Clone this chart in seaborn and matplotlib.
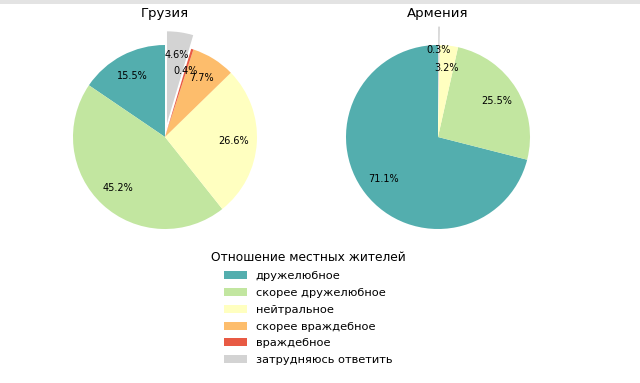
import matplotlib
matplotlib.use("Agg")
import matplotlib.pyplot as plt
import seaborn as sns
from matplotlib.patches import Rectangle

categories = ["дружелюбное", "скорее дружелюбное", "нейтральное",
              "скорее враждебное", "враждебное", "затрудняюсь ответить"]
georgia = [15.5, 45.2, 26.6, 7.7, 0.4, 4.6]
armenia = [71.1, 25.5, 3.2, 0.0, 0.0, 0.3]
countries = ["Грузия", "Армения"]

colors = ["#53aeae", "#c2e6a0", "#ffffc0", "#fdbd6c", "#e85a44", "#d3d3d3"]

sns.set_style("white")
plt.rcParams['font.family'] = ['DejaVu Sans']
plt.rcParams['text.color'] = 'black'

fig = plt.figure(figsize=(6.4, 3.83), dpi=100)
W, H = 640, 383
fig.add_artist(Rectangle((0, 1 - 4 / H), 1, 4 / H, transform=fig.transFigure,
                         color="#e3e3e3", lw=0))

R = 92
centers = [(165, 137), (438, 137)]
explodes = [0.15, 0.2]

legend_wedges = None
for name, vals, (cx, cy), ex in zip(countries, [georgia, armenia], centers, explodes):
    half = 1.25 * R
    ax = fig.add_axes([(cx - half) / W, (H - cy - half) / H, 2 * half / W, 2 * half / H])
    keep = [i for i, v in enumerate(vals) if v > 0]
    v = [vals[i] for i in keep]
    c = [colors[i] for i in keep]
    e = [ex if i == 5 else 0 for i in keep]
    total = sum(v)
    wedges, _, autotexts = ax.pie(v, colors=c, explode=e, startangle=90,
                                  counterclock=True,
                                  autopct=lambda p, t=total: f"{p * t / 100:.1f}%",
                                  pctdistance=0.75,
                                  textprops={"fontsize": 7, "color": "black"},
                                  wedgeprops={"linewidth": 0})
    ax.set_xlim(-1.25, 1.25)
    ax.set_ylim(-1.25, 1.25)
    ax.set_aspect("equal")
    fig.text(cx / W, 1 - 14 / H, name, ha="center", va="center", fontsize=9.5,
             color="black")
    if len(keep) == len(categories):
        legend_wedges = wedges

leg = fig.legend(legend_wedges, categories, title="Отношение местных жителей",
                 loc="upper center", bbox_to_anchor=(308 / W, 1 - 241 / H),
                 frameon=False, fontsize=8.2, title_fontsize=8.8,
                 labelspacing=0.6, handletextpad=0.8)
for t in leg.get_texts():
    t.set_color("black")
leg.get_title().set_color("black")

fig.savefig("out.png", dpi=100)
